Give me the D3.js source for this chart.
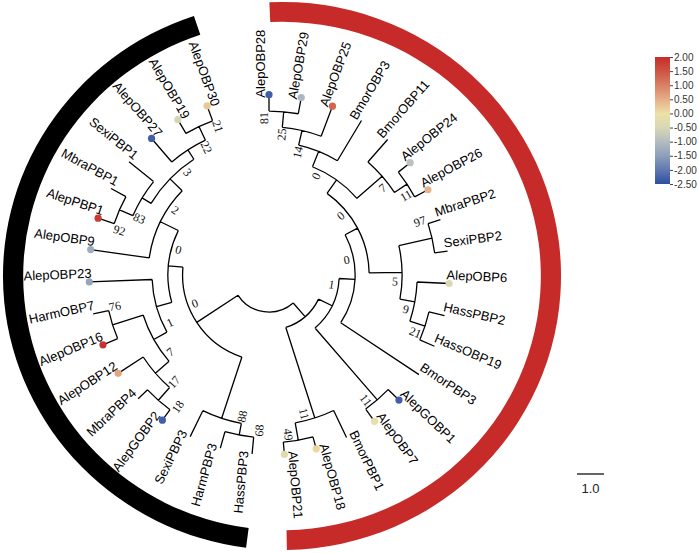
<!DOCTYPE html>
<html><head><meta charset="utf-8">
<script src="https://cdn.jsdelivr.net/npm/d3@7"></script>
<style>body{margin:0;background:#fff}svg{display:block}</style>
</head><body>
<svg id="c" width="699" height="553"></svg>
<script>
// ---------------- DATA ----------------
// Tree (Newick): internal labels = bootstrap values, lengths in tree units (scale bar = 1.0)
const treeNewick = `
(
 (
  (
   (
    (
     (
      (
       ((AlepOBP28:0.61,AlepOBP29:0.61)81:0.58,AlepOBP25:1.19)25:0.56,
       BmorOBP3:1.74
      )14:0.61,
      (BmorOBP11:1.11,(AlepOBP24:0.56,AlepOBP26:0.56)11:0.56)7:1.24
     )0:0.61,
     ((MbraPBP2:0.48,SexiPBP2:0.48)97:1.26,(AlepOBP6:1.19,(HassPBP2:0.59,HassOBP19:0.59)21:0.59)9:0.56)5:1.22
    )0:0.52,
    BmorPBP3:3.48
   )0:0.59,
   (AlepGOBP1:0.56,AlepOBP7:0.56)11:3.52
  )1:0.56,
  (BmorPBP1:1.11,(AlepOBP18:0.46,AlepOBP21:0.46)49:0.65)11:3.52
 ):0.67,
 (
  (
   (HassPBP3:0.63,HarmPBP3:0.63)68:0.44,
   SexiPBP3:1.07
  )88:2.39,
  (
   (
    (
     ((AlepGOBP2:0.48,MbraPBP4:0.48)18:0.63,AlepOBP12:1.11)17:0.67,
     (AlepOBP16:0.59,HarmOBP7:0.59)76:1.19
    )7:0.56,
    AlepOBP23:2.33
   )1:0.59,
   (
    AlepOBP9:2.19,
    (
     ((AlepPBP1:0.63,MbraPBP1:0.63)92:0.54,SexiPBP1:1.17)83:0.39,
     (AlepOBP27:1.15,(AlepOBP19:0.59,AlepOBP30:0.59)21:0.56)22:0.41
    )3:0.63
   )2:0.74
  )0:0.54
 )0:1.83
);`;

// side of the node branch on which each bootstrap value sits (pre-order of labelled nodes): -1 before, +1 after
const bootSide = [-1,-1,-1,-1,-1,-1,-1, 1,1,1,-1,1,1,1,1,1,
                  1,-1,-1,1,-1,-1,-1,-1,1,1,1,-1,-1,1,1];

// expression values (heat-map dots) for A. lepigone genes
const dotGenes  = ["AlepOBP28","AlepOBP29","AlepOBP25","AlepOBP24","AlepOBP26","AlepOBP6","AlepGOBP1","AlepOBP7",
                   "AlepOBP18","AlepOBP21","AlepGOBP2","AlepOBP12","AlepOBP16","AlepOBP23","AlepOBP9","AlepPBP1",
                   "AlepOBP27","AlepOBP19","AlepOBP30"];
const dotValues = [-2.3,-1.1,1.3,-0.9,0.45,-0.45,-2.3,-0.1,
                   0.1,-0.3,-2.3,0.6,1.9,-1.4,-1.3,1.8,
                   -2.3,-0.55,0.25];

// colour legend
const legendValues = [2, 1.5, 1, 0.5, 0, -0.5, -1, -1.5, -2, -2.5];
const legendLabels = ["2.00","1.50","1.00","0.50","0.00","-0.50","-1.00","-1.50","-2.00","-2.50"];
const legendColors = ["#c62c2a","#cd5443","#d87f64","#e5ae88","#ece0a6","#d8d8b5","#b4bcc0","#8d9fba","#5f79b0","#2d4ea3"];
const scaleBarLabel = "1.0";

// ---------------- PARSE ----------------
function parseNewick(str){
  const s = str.replace(/\s+/g,'');
  let i = 0;
  function node(){
    const n = {name:'', length:0, children:null};
    if (s[i] === '('){
      i++; n.children = [node()];
      while (s[i] === ','){ i++; n.children.push(node()); }
      i++; // ')'
    }
    let name=''; while(i<s.length && !',():;'.includes(s[i])) name += s[i++];
    n.name = name;
    if (s[i] === ':'){ i++; let l=''; while(i<s.length && !',();'.includes(s[i])) l += s[i++]; n.length = +l; }
    return n;
  }
  return node();
}

const root = d3.hierarchy(parseNewick(treeNewick), d => d.children);
root.eachBefore(d => { d.len = d.parent ? d.parent.len + d.data.length : 0; });

const cx = 269, cy = 275;
const rScale = d3.scaleLinear().domain([0, 1]).range([37, 64]);   // 1.0 unit = 27 px
const leaves = root.leaves();
const angleScale = d3.scalePoint().domain(leaves.map(d => d.data.name)).range([0, 339.9]);
leaves.forEach(d => d.angle = angleScale(d.data.name));
root.eachAfter(d => {
  if (d.children) d.angle = (d.children[0].angle + d.children[d.children.length-1].angle) / 2;
  d.r = rScale(d.len);
});
const maxR = d3.max(leaves, d => d.r);

const colorScale = d3.scaleLinear().domain(legendValues).range(legendColors);

function pt(a, r){ const t = a*Math.PI/180; return [cx + r*Math.sin(t), cy - r*Math.cos(t)]; }

const svg = d3.select('#c');

// ---------------- CLADE RINGS ----------------
const ringG = svg.append('g').attr('transform','translate(282,276) scale(1.011,0.993)');
const ringArc = d3.arc().innerRadius(256).outerRadius(276);
const rad = a => a*Math.PI/180;
const firstA = leaves[0].angle, redLast = leaves[17].angle, blackFirst = leaves[18].angle, lastA = leaves[33].angle;
ringG.append('path').attr('d', ringArc({startAngle: rad(firstA-2.6), endAngle: rad(redLast+3.9)})).attr('fill','#c62b2a');
ringG.append('path').attr('d', ringArc({startAngle: rad(blackFirst+2), endAngle: rad(lastA+1.7)})).attr('fill','#000');

// ---------------- BRANCHES ----------------
let p = '';
root.each(d => {
  if (d.parent){
    const [x1,y1] = pt(d.angle, d.parent.r), [x2,y2] = pt(d.angle, d.r);
    p += `M${x1},${y1}L${x2},${y2}`;
  }
  if (d.children){
    const a1 = d.children[0].angle, a2 = d.children[d.children.length-1].angle;
    const [x1,y1] = pt(a1, d.r), [x2,y2] = pt(a2, d.r);
    p += `M${x1},${y1}A${d.r},${d.r} 0 ${a2-a1>180?1:0} 1 ${x2},${y2}`;
  }
});
svg.append('path').attr('d', p).attr('fill','none').attr('stroke','#000').attr('stroke-width',1.3);

// ---------------- BOOTSTRAP VALUES ----------------
let k = 0;
root.eachBefore(d => {
  if (!d.children || d.data.name === '') return;
  const side = bootSide[k++];
  const left = d.angle > 180;
  const off = side < 0 ? -19 : (left ? 17 : 9);
  const rc = d.r - 7;
  const a = d.angle + off / rc * 180 / Math.PI;
  const [x,y] = pt(a, rc);
  const flip = a > 180 && a < 360;
  svg.append('text')
    .attr('transform', `translate(${x},${y}) rotate(${a-90+(flip?180:0)})`)
    .attr('text-anchor','middle').attr('dominant-baseline','central')
    .attr('font-family','"Liberation Serif","Times New Roman",serif').attr('font-size',12)
    .attr('fill','#111')
    .text(d.data.name);
});

// ---------------- LEAF LABELS & DOTS ----------------
leaves.forEach(d => {
  const a = d.angle, flip = a > 180;
  const [x,y] = pt(a, maxR - 3);
  svg.append('text')
    .attr('transform', `translate(${x},${y}) rotate(${a-90+(flip?180:0)})`)
    .attr('text-anchor', flip ? 'end' : 'start')
    .attr('dy', -4)
    .attr('font-family','"Liberation Sans",Arial,sans-serif').attr('font-size',13)
    .attr('fill','#000')
    .text(d.data.name);
});
dotGenes.forEach((g, i) => {
  const leaf = leaves.find(l => l.data.name === g);
  const [x,y] = pt(leaf.angle, leaf.r);
  svg.append('circle').attr('cx',x).attr('cy',y).attr('r',3.6).attr('fill', colorScale(dotValues[i]));
});

// ---------------- COLOUR LEGEND ----------------
const defs = svg.append('defs');
const grad = defs.append('linearGradient').attr('id','lg').attr('x1',0).attr('y1',0).attr('x2',0).attr('y2',1);
legendValues.forEach((v,i) => grad.append('stop').attr('offset', i/(legendValues.length-1)).attr('stop-color', legendColors[i]));
const ly = d3.scaleLinear().domain([2, -2.5]).range([57, 184]);
svg.append('rect').attr('x',655).attr('y',ly(2)).attr('width',15).attr('height',ly(-2.5)-ly(2)).attr('fill','url(#lg)');
const ax = svg.append('g').attr('transform','translate(670,0)')
  .call(d3.axisRight(ly).tickValues(legendValues).tickSize(3).tickPadding(1).tickFormat((d,i) => legendLabels[i]));
ax.select('.domain').remove();
ax.selectAll('line').attr('stroke','#444');
ax.selectAll('text').attr('font-family','"Liberation Sans",Arial,sans-serif').attr('font-size',10).attr('fill','#333');

// ---------------- SCALE BAR ----------------
const sbLen = rScale(1) - rScale(0);
svg.append('line').attr('x1',577).attr('x2',577+sbLen).attr('y1',474).attr('y2',474).attr('stroke','#000').attr('stroke-width',1.2);
svg.append('text').attr('x',577+sbLen/2).attr('y',493).attr('text-anchor','middle')
  .attr('font-family','"Liberation Sans",Arial,sans-serif').attr('font-size',13).attr('fill','#222').text(scaleBarLabel);
</script>
</body></html>
